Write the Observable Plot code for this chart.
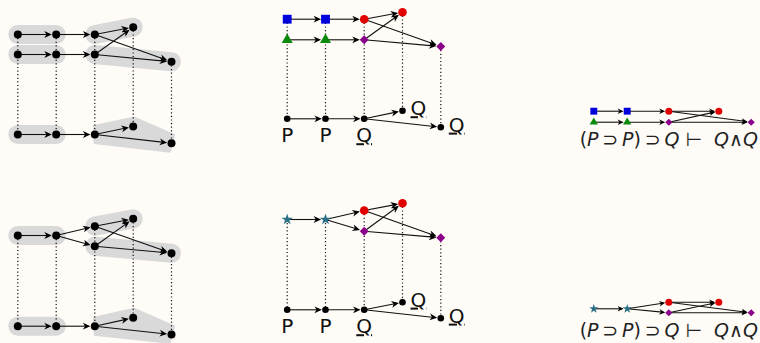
<!DOCTYPE html>
<html><head><meta charset="utf-8">
<script src="https://cdn.jsdelivr.net/npm/d3@7"></script>
<script src="https://cdn.jsdelivr.net/npm/@observablehq/plot@0.6"></script>
<style>html,body{margin:0;padding:0;background:#fffcf7;}</style>
</head><body><div id="chart"></div>
<script>
// ---------- DATA ----------
// Node lists: [id, x, y, kind]; "s" suffix on kind = compact (small) panel
const treeUpperNodes = [
  ["a0",17.3,34,"dot"],["a1",55.7,34,"dot"],["a2",94.3,34,"dot"],["a3",132.7,26.7,"dot"],
  ["b0",17.3,54,"dot"],["b1",55.7,54,"dot"],["b2",94.3,54,"dot"],["b3",171,61.3,"dot"],
  ["c0",17.3,134,"dot"],["c1",55.7,134,"dot"],["c2",94.3,134,"dot"],["c3",132.7,126,"dot"],["c4",171,142.7,"dot"]
];
const treeLowerNodes = [
  ["d0",17.3,235,"dot"],["d1",55.7,235,"dot"],["du",94.3,225.7,"dot"],["dl",94.3,245.7,"dot"],
  ["d3",132.7,218.3,"dot"],["d4",171,252.7,"dot"],
  ["e0",17.3,325.7,"dot"],["e1",55.7,325.7,"dot"],["e2",94.3,325.7,"dot"],["e3",132.7,317.3,"dot"],["e4",171,334,"dot"]
];
const labUpperNodes = [
  ["s0",286.7,18.7,"sq"],["s1",325,18.7,"sq"],["r1",363.7,18.7,"red"],["r2",402,11.7,"red"],
  ["t0",286.7,39.3,"tri"],["t1",325,39.3,"tri"],["m1",363.7,39.3,"diam"],["m2",440.3,46,"diam"],
  ["f0",286.7,118.3,"pt"],["f1",325,118.3,"pt"],["f2",363.7,118.3,"pt"],["f3",402,110.3,"pt"],["f4",440.3,126.7,"pt"]
];
const labLowerNodes = [
  ["g0",286.7,219,"star"],["g1",325,219,"star"],["gr1",363.7,210,"red"],["gm1",363.7,230.7,"diam"],
  ["gr2",402,202.7,"red"],["gm2",440.3,237.3,"diam"],
  ["h0",286.7,309.3,"pt"],["h1",325,309.3,"pt"],["h2",363.7,309.3,"pt"],["h3",402,301.7,"pt"],["h4",440.3,317.7,"pt"]
];
const compactUpperNodes = [
  ["k0",593.3,110.7,"sqs"],["k1",626.7,110.7,"sqs"],["kr1",668.3,110.7,"reds"],["kr2",718.3,110.7,"reds"],
  ["l0",593.3,121.7,"tris"],["l1",626.7,121.7,"tris"],["km1",668.3,121.7,"diams"],["km2",750.7,121.7,"diams"]
];
const compactLowerNodes = [
  ["n0",593.3,308.3,"stars"],["n1",626.7,308.3,"stars"],["nr1",668.3,301.7,"reds"],["nr2",718.3,301.7,"reds"],
  ["nm1",668.3,312.3,"diams"],["nm2",750.7,312.3,"diams"]
];

// Edges (arrows) [from, to]
const treeEdges = [["a0","a1"],["a1","a2"],["a2","a3"],["a2","b3"],["b0","b1"],["b1","b2"],["b2","a3"],["b2","b3"],
  ["c0","c1"],["c1","c2"],["c2","c3"],["c2","c4"],
  ["d0","d1"],["d1","du"],["d1","dl"],["du","d3"],["du","d4"],["dl","d3"],["dl","d4"],
  ["e0","e1"],["e1","e2"],["e2","e3"],["e2","e4"]];
const labEdges = [["s0","s1"],["s1","r1"],["r1","r2"],["r1","m2"],["t0","t1"],["t1","m1"],["m1","r2"],["m1","m2"],
  ["f0","f1"],["f1","f2"],["f2","f3"],["f2","f4"],
  ["g0","g1"],["g1","gr1"],["g1","gm1"],["gr1","gr2"],["gr1","gm2"],["gm1","gr2"],["gm1","gm2"],
  ["h0","h1"],["h1","h2"],["h2","h3"],["h2","h4"]];
const compactEdges = [["k0","k1"],["k1","kr1"],["kr1","kr2"],["kr1","km2"],["l0","l1"],["l1","km1"],["km1","kr2"],["km1","km2"],
  ["n0","n1"],["n1","nr1"],["n1","nm1"],["nr1","nr2"],["nr1","nm2"],["nm1","nr2"],["nm1","nm2"]];

// Dotted projections [upper, lower]
const projections = [["a0","c0"],["a1","c1"],["a2","c2"],["a3","c3"],["b3","c4"],
  ["d0","e0"],["d1","e1"],["du","e2"],["d3","e3"],["d4","e4"],
  ["s0","f0"],["s1","f1"],["r1","f2"],["r2","f3"],["m2","f4"],
  ["g0","h0"],["g1","h1"],["gr1","h2"],["gr2","h3"],["gm2","h4"]];

// Grey groupings
const pills = [["a0","a1"],["b0","b1"],["a2","a3"],["b2","b3"],["c0","c1"],
  ["d0","d1"],["du","d3"],["dl","d4"],["e0","e1"]];
const hulls = [["c2","c3","c4"],["e2","e3","e4"]];

// Labels [node, text, placement]
const labels = [["f0","P","below"],["f1","P","below"],["f2","Q","below"],["f3","Q","right"],["f4","Q","right"],
  ["h0","P","below"],["h1","P","below"],["h2","Q","below"],["h3","Q","right"],["h4","Q","right"]];
const formulaAnchors = ["kr1","nr1"];
const formulaText = "(P\u2009\u2283\u2009P)\u2009\u2283\u2009Q \u22A2  Q\u2227Q";

// ---------- BUILD ----------
const allNodes = [...treeUpperNodes,...treeLowerNodes,...labUpperNodes,...labLowerNodes,...compactUpperNodes,...compactLowerNodes]
  .map(([id,x,y,kind])=>({id,x,y,kind,small:kind.endsWith("s")}));
const byId = new Map(allNodes.map(d=>[d.id,d]));
const edges = [...treeEdges,...labEdges,...compactEdges].map(([s,t])=>{
  const a=byId.get(s), b=byId.get(t);
  const dx=b.x-a.x, dy=b.y-a.y, L=Math.hypot(dx,dy), ux=dx/L, uy=dy/L;
  const gap = b.small?3.6:(b.kind==="pt"?3.6:4.4);
  const tx=b.x-ux*gap, ty=b.y-uy*gap;
  return {x1:a.x,y1:a.y,x2:tx-ux*3,y2:ty-uy*3,tx,ty,angle:Math.atan2(dy,dx)*180/Math.PI,small:b.small};
});
const proj = projections.map(([s,t])=>({x1:byId.get(s).x,y1:byId.get(s).y,x2:byId.get(t).x,y2:byId.get(t).y}));
const pillPts = pills.flatMap((g,i)=>g.map(id=>({...byId.get(id),g:i})));
const hullPts = hulls.flatMap((g,i)=>g.map(id=>({...byId.get(id),g:i})));
const labelData = labels.map(([id,text,pos])=>({...byId.get(id),text,pos}));
const formulaData = formulaAnchors.map(id=>({...byId.get(id),text:formulaText}));

const stealth = (len,hw,notch)=>({draw(ctx){ctx.moveTo(0,0);ctx.lineTo(-len,-hw);ctx.lineTo(-len+notch,0);ctx.lineTo(-len,hw);ctx.closePath();}});
const headBig = stealth(7.5,3.4,2.2), headSmall = stealth(6,2.8,1.8);

const grey = "#d9d9d9";
const style = {
  dot:{fill:"#000",symbol:"circle",r:4},
  pt:{fill:"#000",symbol:"circle",r:3.3},
  sq:{fill:"#0000dd",symbol:"square",r:5.0},
  tri:{fill:"#0a8a0a",symbol:"triangle",r:4.1},
  red:{fill:"#e00000",symbol:"circle",r:4.3},
  diam:{fill:"#8b008b",symbol:"diamond2",r:4.0},
  star:{fill:"#2a6f86",symbol:"star",r:3.6},
  sqs:{fill:"#0000dd",symbol:"square",r:3.9},
  tris:{fill:"#0a8a0a",symbol:"triangle",r:3.1},
  reds:{fill:"#e00000",symbol:"circle",r:3.5},
  diams:{fill:"#8b008b",symbol:"diamond2",r:3.2},
  stars:{fill:"#2a6f86",symbol:"star",r:2.9}
};
const nodeMarks = Object.entries(style).map(([k,s])=>Plot.dot(allNodes.filter(d=>d.kind===k),{x:"x",y:"y",...s,stroke:"none"}));

const chart = Plot.plot({
  width:760, height:343, margin:0,
  x:{domain:[0,760],range:[0,760],axis:null},
  y:{domain:[0,343],range:[0,343],axis:null},
  style:{background:"#fffcf7",fontFamily:"DejaVu Sans"},
  marks:[
    Plot.line(hullPts,{x:"x",y:"y",z:"g",curve:"linear-closed",fill:grey,stroke:grey,strokeWidth:19,strokeLinejoin:"miter",strokeMiterlimit:4}),
    Plot.line(pillPts,{x:"x",y:"y",z:"g",stroke:grey,strokeWidth:19,strokeLinecap:"round"}),
    Plot.link(proj,{x1:"x1",y1:"y1",x2:"x2",y2:"y2",stroke:"#111",strokeWidth:1.2,strokeDasharray:"1.2,2.4"}),
    Plot.link(edges,{x1:"x1",y1:"y1",x2:"x2",y2:"y2",stroke:"#111",strokeWidth:1.1}),
    Plot.dot(edges.filter(d=>!d.small),{x:"tx",y:"ty",rotate:"angle",symbol:headBig,fill:"#000",stroke:"none",r:3}),
    Plot.dot(edges.filter(d=>d.small),{x:"tx",y:"ty",rotate:"angle",symbol:headSmall,fill:"#000",stroke:"none",r:3}),
    ...nodeMarks,
    Plot.text(labelData.filter(d=>d.pos==="below"),{x:"x",y:"y",text:"text",dy:17,fontSize:20,fill:"#111"}),
    Plot.text(labelData.filter(d=>d.pos==="right"),{x:"x",y:"y",text:"text",dx:8,dy:-2,textAnchor:"start",fontSize:20,fill:"#111"}),
    Plot.text(formulaData,{x:"x",y:"y",text:"text",dy:29,fontSize:19,fill:"#222"})
  ]
});
document.getElementById("chart").appendChild(chart);
chart.querySelectorAll("text").forEach(t=>{
  const s=t.textContent;
  if(s==="Q") t.style.textDecoration="underline";
  else if(s===formulaText){
    t.textContent="";
    for(const ch of s){
      const ts=document.createElementNS("http://www.w3.org/2000/svg","tspan");
      ts.textContent=ch;
      if(ch==="P"||ch==="Q") ts.setAttribute("font-style","italic");
      t.appendChild(ts);
    }
  }
});
</script>
</body></html>
